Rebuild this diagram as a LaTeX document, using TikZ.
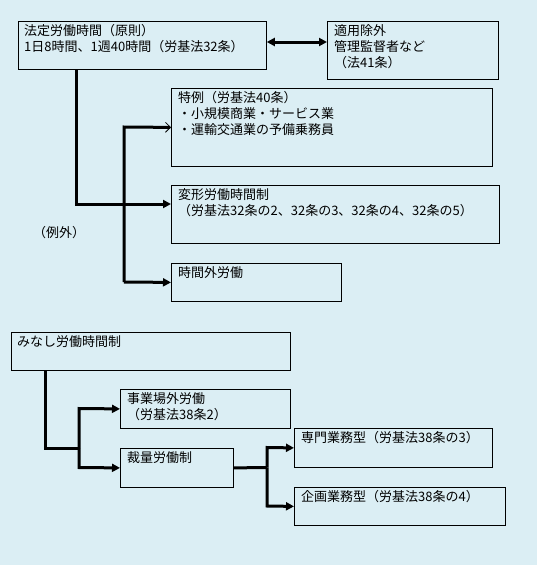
\documentclass[tikz,border=0pt]{standalone}
\usepackage{fontspec}
\setmainfont{Noto Sans CJK JP}
\usetikzlibrary{arrows.meta,calc}
\definecolor{bgblue}{HTML}{DBEEF4}
\tikzset{
  box/.style={draw=black, line width=0.8pt, fill=bgblue, rectangle, inner sep=0pt, anchor=north west},
  txt/.style={anchor=north west, inner sep=0pt, align=left, font=\fontsize{13}{16}\selectfont},
  conn/.style={line width=3pt, line cap=butt},
  tip/.style={-{Triangle[length=8pt,width=8pt]}},
  barb/.style={-{Straight Barb[length=5pt,width=10pt,line width=0.8pt]}},
}
\begin{document}
\begin{tikzpicture}[x=1pt,y=-1pt]
\fill[bgblue] (0,0) rectangle (537,565);
\useasboundingbox (0,0) rectangle (537,565);
% boxes
\node[box, minimum width=248pt, minimum height=48pt] (A) at (18,21) {};
\node[box, minimum width=171pt, minimum height=58pt] (B) at (327,21) {};
\node[box, minimum width=321pt, minimum height=78pt] (C) at (171,88) {};
\node[box, minimum width=328pt, minimum height=58pt] (D) at (171,185) {};
\node[box, minimum width=170pt, minimum height=38pt] (E) at (171,263) {};
\node[box, minimum width=279pt, minimum height=38pt] (F) at (11,332) {};
\node[box, minimum width=170pt, minimum height=39pt] (G) at (120,389) {};
\node[box, minimum width=113pt, minimum height=39pt] (H) at (120,448) {};
\node[box, minimum width=198pt, minimum height=39pt] (I) at (294,428) {};
\node[box, minimum width=211pt, minimum height=38pt] (J) at (294,487) {};
% texts
\node[txt] (tA) at (24,24) {法定労働時間（原則）\\1日8時間、1週40時間（労基法32条）};
\node[txt] (tB) at (334,24) {適用除外\\管理監督者など\\（法41条）};
\node[txt] (tC) at (178,91) {特例（労基法40条）\\・小規模商業・サービス業\\・運輸交通業の予備乗務員};
\node[txt] (tD) at (178,188) {変形労働時間制\\（労基法32条の2、32条の3、32条の4、32条の5）};
\node[txt] (tE) at (178,266) {時間外労働};
\node[txt] (tF) at (17,335) {みなし労働時間制};
\node[txt] (tG) at (127,392) {事業場外労働\\（労基法38条2）};
\node[txt] (tH) at (127,451) {裁量労働制};
\node[txt] (tI) at (301,431) {専門業務型（労基法38条の3）};
\node[txt] (tJ) at (301,490) {企画業務型（労基法38条の4）};
\node[txt] (rei) at (33,226) {（例外）};
% junction coordinates
\coordinate (a1) at (76,69);
\coordinate (a2) at (76,204);
\coordinate (k1) at (124,127);
\coordinate (k2) at (124,282);
\coordinate (f1) at (45,370);
\coordinate (f2) at (45,448);
\coordinate (g1) at (79,448);
\coordinate (g2) at (79,408.5);
\coordinate (g3) at (79,467.5);
\coordinate (h1) at (267,467.5);
\coordinate (h2) at (267,447.5);
\coordinate (h3) at (267,506);
% connectors
\draw[conn, {Triangle[length=8pt,width=8pt]}-{Triangle[length=8pt,width=8pt]}] (A.east |- 0,42) -- (B.west |- 0,42);
\draw[conn, tip] (a1) -- (a2) -- (D.west |- a2);
\draw[conn, barb] (k2) -- (k1) -- (C.west);
\draw[conn, tip] (k2) -- (E.west);
\draw[conn] (f1) -- (f2) -- (g1);
\draw[conn, tip] (g1) -- (g2) -- (G.west);
\draw[conn, tip] (g1) -- (g3) -- (H.west);
\draw[conn] (H.east) -- (h1);
\draw[conn, tip] (h1) -- (h2) -- (I.west);
\draw[conn, tip] (h1) -- (h3) -- (J.west);
\end{tikzpicture}
\end{document}
